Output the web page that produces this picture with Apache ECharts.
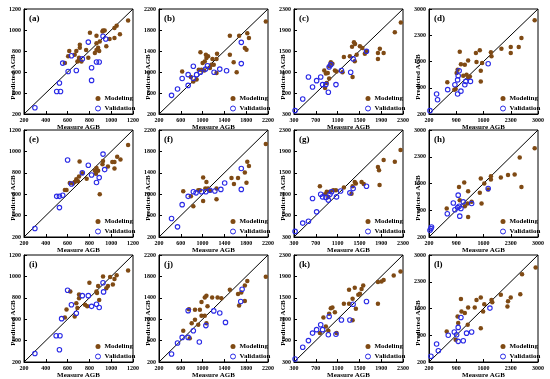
<!DOCTYPE html>
<html><head><meta charset="utf-8">
<script src="https://cdn.jsdelivr.net/npm/echarts@6/dist/echarts.min.js"></script>
<style>html,body{margin:0;padding:0;background:#fff}#c{width:550px;height:379px}</style>
</head><body><div id="c"></div>
<script>
const panelLabels = ['(a)','(b)','(c)','(d)','(e)','(f)','(g)','(h)','(i)','(j)','(k)','(l)'];
const ticks1 = [200,400,600,800,1000,1200];
const ticks2 = [200,600,1000,1400,1800,2200];
const ticks3 = [300,700,1100,1500,1900,2300];
const ticks4 = [200,900,1600,2300,3000];

const modA = [[1155,1090],[1050,1040],[1030,1020],[925,995],[940,995],[920,985],[805,975],[1080,960],[865,946],[985,915],[1030,925],[615,800],[605,750],[712,860],[712,830],[680,800],[665,765],[705,735],[703,710],[727,700],[690,700],[790,735],[770,810],[865,875],[880,830],[865,810],[890,800],[850,780],[895,890],[955,845],[575,685]];
const valA = [[300,260],[525,495],[500,415],[535,415],[555,685],[605,605],[635,755],[680,615],[735,725],[790,885],[820,640],[820,520],[865,695],[890,695],[925,940],[950,915]];
const modB = [[2160,1960],[1820,1740],[1850,1650],[1670,1690],[1775,1455],[1805,1425],[1500,1690],[1500,1330],[1570,1185],[1625,995],[1265,1350],[1255,1250],[1180,1250],[1205,1140],[1135,1075],[960,1375],[1060,1330],[1070,1265],[1040,1200],[1000,1170],[930,1045],[980,1045],[1030,1030],[1255,980],[625,1010],[785,905],[830,820],[890,855],[1160,1140],[1100,1300]];
const valB = [[430,555],[540,675],[625,875],[735,745],[735,950],[830,875],[830,1110],[890,950],[960,995],[1055,1055],[1090,1120],[1210,995],[1315,1055],[1440,1025],[1710,1160],[1710,1565]];
const modC = [[2260,2045],[2150,1855],[1875,1545],[1945,1460],[1840,1460],[1840,1350],[1400,1665],[1420,1635],[1365,1580],[1510,1590],[1555,1555],[1600,1450],[1630,1495],[1450,1430],[1325,1400],[1415,1305],[1215,1385],[1375,1005],[975,1285],[1005,1255],[945,1210],[855,1130],[920,1080],[885,1070],[1050,1130],[1080,1110],[1190,1095],[945,975],[900,890],[870,795]];
const valC = [[320,365],[460,585],[565,1005],[640,815],[715,935],[790,1005],[825,860],[885,860],[930,715],[975,1240],[945,1195],[1070,860],[1170,1130],[1340,1095],[1385,1350],[1630,1495]];
const modD = [[2915,2700],[2575,2225],[2505,1985],[2300,1985],[2300,1825],[2060,1940],[1790,1845],[1805,1740],[1505,1900],[1405,1825],[1420,1590],[1565,1560],[1530,1355],[1530,1070],[1205,1625],[1120,1515],[990,1860],[1020,1530],[935,1380],[910,1295],[1080,1220],[1165,1250],[1210,1160],[670,1045],[885,865],[850,850],[1250,1200]];
const valD = [[225,290],[395,735],[420,580],[680,850],[865,980],[935,735],[950,1220],[975,1355],[1020,810],[1120,980],[1145,1070],[1265,1070],[1720,1540],[935,1110]];
const modE = [[1155,1060],[1055,950],[1085,925],[1030,900],[1010,900],[970,860],[1030,840],[925,910],[920,880],[865,845],[850,820],[880,820],[860,790],[895,600],[710,905],[735,795],[705,765],[680,740],[695,720],[665,715],[650,700],[620,705],[590,640],[575,640],[775,745]];
const valE = [[300,280],[525,475],[500,580],[525,580],[555,590],[600,920],[635,695],[735,800],[790,870],[820,780],[865,710],[890,755],[925,975],[940,830]];
const modF = [[2160,1940],[1820,1605],[1850,1525],[1775,1405],[1805,1215],[1650,1305],[1530,1305],[1575,1190],[1010,1310],[1070,1230],[950,1075],[920,1075],[1050,1105],[1100,1105],[1135,1065],[1255,1105],[1255,905],[1010,875],[645,1055],[785,960],[830,775]];
const valF = [[430,545],[540,390],[625,805],[735,960],[830,1045],[880,1025],[980,1045],[1060,1045],[1135,1075],[1225,1060],[1335,1090],[1405,1210],[1710,1480],[1710,1090]];
const modG = [[2255,1925],[1945,1740],[2150,1705],[1840,1610],[1860,1550],[1870,1270],[1540,1330],[1580,1290],[1415,1330],[1435,1300],[1375,1250],[1215,1225],[1355,1110],[1020,1175],[960,1145],[900,1145],[870,1100],[930,1050],[1070,1175],[775,1250]];
const valG = [[320,405],[460,560],[565,595],[640,1020],[715,770],[790,1100],[825,1050],[885,1040],[930,990],[960,1100],[990,1145],[1080,1050],[1155,1160],[1325,1125],[1385,1205],[1630,1250]];
const modH = [[2915,2520],[2530,2280],[2575,1510],[2230,1820],[2400,1835],[2045,1760],[1790,1790],[1790,1705],[1530,1730],[1620,1600],[1720,1440],[1505,1355],[1105,1625],[970,1510],[1205,1395],[990,1160],[1190,1075],[1295,1120],[1120,1005],[655,945],[1550,1075],[1205,725]];
const valH = [[250,420],[265,460],[225,375],[670,810],[825,1090],[865,915],[935,970],[950,1295],[975,1005],[1020,945],[1080,1120],[990,745],[1720,1470],[1295,1075]];
const modI = [[1155,1055],[1050,1010],[1030,975],[1015,925],[990,995],[925,1000],[880,910],[970,910],[955,890],[800,940],[865,860],[870,845],[890,780],[705,830],[705,795],[680,750],[690,705],[760,735],[780,720],[625,860],[590,690],[575,615],[665,625]];
const valI = [[300,280],[495,445],[530,445],[525,315],[545,605],[600,870],[635,735],[680,655],[735,820],[790,820],[820,720],[865,740],[890,710],[925,940],[930,855]];
const modJ = [[2160,1795],[1820,1715],[1775,1630],[1710,1500],[1650,1470],[1775,1340],[1670,1255],[1500,1550],[1345,1390],[1275,1405],[1175,1405],[1070,1440],[1040,1405],[980,1320],[1090,1240],[950,1175],[860,1175],[750,1185],[980,1065],[1040,1065],[1070,925],[920,895],[860,990],[800,925],[645,785],[765,645]];
const valJ = [[430,350],[540,555],[625,660],[735,660],[830,785],[735,1160],[940,575],[1060,880],[1205,1155],[1315,1115],[1420,940],[1700,1330],[1725,1560]];
const modK = [[2255,1990],[2130,1915],[1945,1835],[1905,1805],[1840,1795],[1840,1390],[1570,1730],[1540,1665],[1510,1575],[1480,1555],[1415,1690],[1310,1650],[1375,1480],[1310,1390],[1215,1390],[1435,1295],[1375,1080],[975,1305],[1005,1320],[1050,1230],[945,1200],[840,1130],[885,965],[930,885],[775,840],[1080,840]];
const valK = [[320,355],[460,575],[565,700],[640,840],[715,905],[790,995],[825,905],[930,810],[945,1150],[1070,820],[1170,1085],[1325,1085],[1385,1380],[1630,1430]];
const modL = [[2940,2670],[2590,2495],[2045,1960],[2300,1890],[2545,1975],[2230,1790],[2215,1650],[1805,1825],[1825,1765],[1530,1890],[1420,1825],[1620,1710],[1375,1625],[1590,1520],[1205,1625],[1020,1850],[1035,1520],[1120,1480],[935,1390],[950,1220],[1195,1175],[1530,1085],[655,1000],[885,785]];
const valL = [[250,350],[395,670],[440,495],[695,900],[850,985],[910,915],[950,1105],[1020,1365],[950,740],[1080,755],[1165,955],[1295,985],[1765,1610]];

const modeling = [modA,modB,modC,modD,modE,modF,modG,modH,modI,modJ,modK,modL];
const validation = [valA,valB,valC,valD,valE,valF,valG,valH,valI,valJ,valK,valL];
const colTicks = [ticks1,ticks2,ticks3,ticks4];

const colLeft = [24,159,294,429];
const rowTop = [9,130,255];
const rowH = [105,107,107];
const plotW = 109;
const FONT = '"Liberation Serif", "Times New Roman", serif';
const MOD_COLOR = '#7f4a14';
const VAL_COLOR = '#2a2ae6';

const grids=[], xAxes=[], yAxes=[], series=[], legends=[], graphics=[];
for (let i=0;i<12;i++){
  const r=Math.floor(i/4), c=i%4;
  const t=colTicks[c], lo=t[0], hi=t[t.length-1];
  grids.push({left:colLeft[c], top:rowTop[r], width:plotW, height:rowH[r], show:true, borderColor:'#000', borderWidth:1, containLabel:false, outerBoundsMode:'none'});
  const axisCommon = {
    type:'value', gridIndex:i, min:lo, max:hi,
    axisLine:{show:true, onZero:false, lineStyle:{color:'#000', width:1}},
    axisTick:{show:true, inside:true, length:3, customValues:t, lineStyle:{color:'#000'}},
    axisLabel:{customValues:t, formatter:function(v){return String(v);}, fontSize:6, fontWeight:'bold', fontFamily:FONT, color:'#000', margin:3},
    splitLine:{show:false}
  };
  xAxes.push(Object.assign({}, axisCommon, {name:'Measure AGB', nameLocation:'middle', nameGap:9,
    nameTextStyle:{fontSize:7, fontWeight:'bold', fontFamily:FONT, color:'#000'}}));
  yAxes.push(Object.assign({}, axisCommon));
  series.push({type:'line', xAxisIndex:i, yAxisIndex:i, data:[[lo,lo],[hi,hi]], showSymbol:false, symbol:'none', silent:true,
    lineStyle:{color:'#000', width:1}, z:1, animation:false});
  series.push({name:'Modeling', type:'scatter', xAxisIndex:i, yAxisIndex:i, data:modeling[i], symbol:'circle', symbolSize:4.5,
    itemStyle:{color:MOD_COLOR, opacity:1}, z:3, animation:false});
  series.push({name:'Validation', type:'scatter', xAxisIndex:i, yAxisIndex:i, data:validation[i], symbol:'circle', symbolSize:4.5,
    itemStyle:{color:'rgba(0,0,0,0)', borderColor:VAL_COLOR, borderWidth:1.1, opacity:1}, z:4, animation:false});
  legends.push({orient:'vertical', left:colLeft[c]+71, top:rowTop[r]+rowH[r]-19, itemWidth:5, itemHeight:5, itemGap:3,
    selectedMode:false, padding:0,
    data:[{name:'Modeling', icon:'circle'},{name:'Validation', icon:'circle', itemStyle:{borderWidth:1}}],
    textStyle:{fontSize:7, fontWeight:'bold', fontFamily:FONT, color:'#000', padding:[0,0,0,-1]}});
  graphics.push({type:'text', left:colLeft[c]+5, top:rowTop[r]+5, style:{text:panelLabels[i], font:'bold 9px '+FONT, fill:'#000'}});
  graphics.push({type:'text', x:colLeft[c]-11, y:rowTop[r]+68, rotation:Math.PI/2,
    style:{text:'Predicted AGB', font:'bold 7px '+FONT, fill:'#000', textAlign:'center', textVerticalAlign:'middle'}});
}

const chart = echarts.init(document.getElementById('c'), null, {renderer:'canvas'});
chart.setOption({animation:false, backgroundColor:'#fff', grid:grids, xAxis:xAxes, yAxis:yAxes, series:series, legend:legends, graphic:graphics});
</script></body></html>
